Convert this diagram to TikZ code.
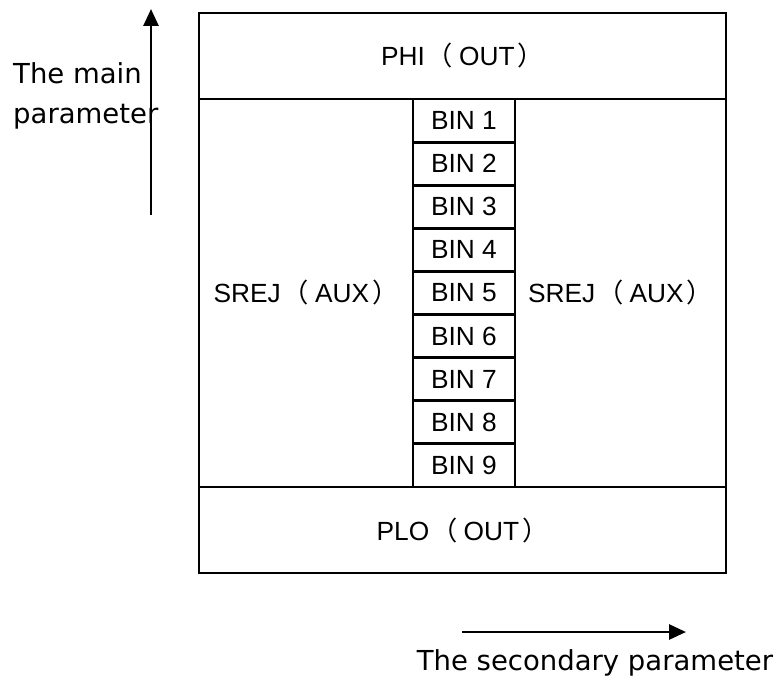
\documentclass[tikz,border=0pt]{standalone}
\usepackage{fontspec}
\setmainfont{Liberation Sans}
\newfontfamily\cjkfont{Noto Sans CJK SC}
\newfontfamily\dvfont{DejaVu Sans}
\usetikzlibrary{arrows.meta}
\newcommand\myLP{\hspace{2pt}{\cjkfont （}\hspace{6pt}}
\newcommand\myRP{\hspace{3pt}{\cjkfont ）}}
\begin{document}
\begin{tikzpicture}[x=1pt,y=1pt,
  cell/.style={draw,line width=2.8pt,inner sep=0pt,font=\fontsize{26.3}{32}\selectfont},
  lbl/.style={inner sep=0pt,font=\dvfont\fontsize{27.5}{40}\selectfont},
  axis/.style={line width=2.8pt,-{Triangle[width=15pt,length=17pt]}}]
\useasboundingbox (0,0) rectangle (783,-677);
% top and bottom bands
\node[cell,minimum width=527pt,minimum height=86pt] (phi) at (462.5,-56) {PHI\myLP OUT\myRP};
\node[cell,minimum width=527pt,minimum height=86pt] (plo) at (462.5,-530) {PLO\myLP OUT\myRP};
% side regions
\node[cell,minimum width=214pt,minimum height=388pt] (srejl) at (306,-293) {SREJ\myLP AUX\myRP};
\node[cell,minimum width=211pt,minimum height=388pt] (srejr) at (620.5,-293) {SREJ\myLP AUX\myRP};
% bins
\foreach \i in {1,...,9}{
  \node[cell,minimum width=102pt,minimum height=43.11pt] (bin\i) at (464,{-99-43.11*(\i-0.5)}) {BIN \i};
}
% axes
\node[lbl,anchor=north west,align=left] (mainlbl) at (13,-62) {The main\\parameter};
\coordinate (va) at (151,-215);
\coordinate (vb) at (151,-9);
\draw[axis] (va) -- (vb);
\coordinate (ha) at (462,-632);
\coordinate (hb) at (686,-632);
\draw[axis] (ha) -- (hb);
\node[lbl,anchor=base] (seclbl) at (595,-670) {The secondary parameter};
\end{tikzpicture}
\end{document}
